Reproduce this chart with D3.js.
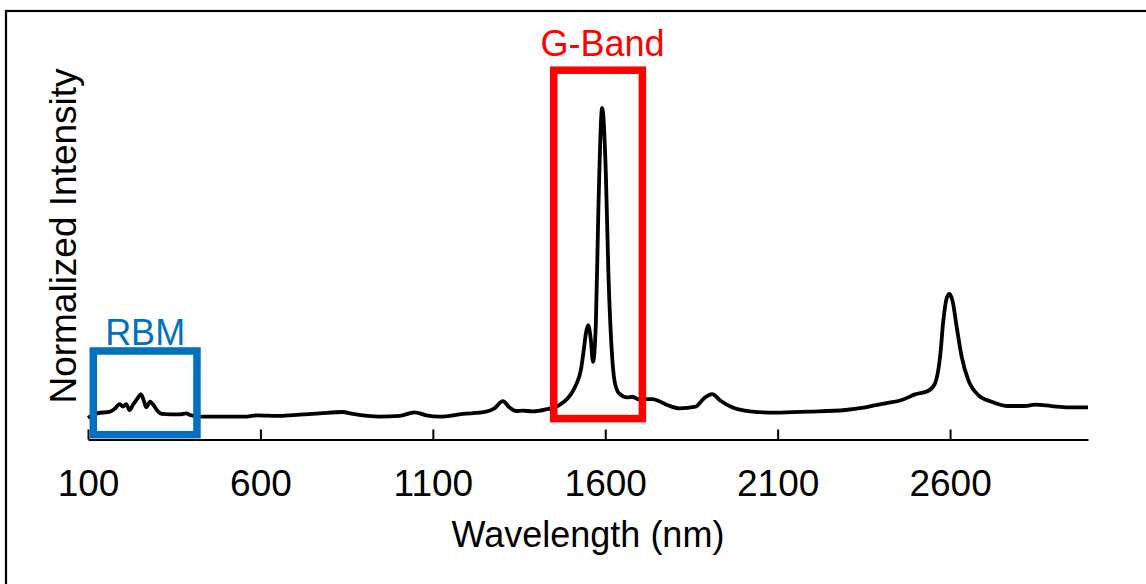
<!DOCTYPE html>
<html>
<head>
<meta charset="utf-8">
<script src="https://cdn.jsdelivr.net/npm/d3@7"></script>
<style>
  html, body { margin: 0; padding: 0; background: #fff; }
  svg { display: block; }
  text { font-family: "Liberation Sans", Arial, sans-serif; }
</style>
</head>
<body>
<svg id="chart" width="1146" height="584"></svg>
<script>
// ---- data ----
const wavelength = [100,126,164.5,179,191.4,201.3,210.8,220.4,230.2,243.5,253.4,262.9,268.7,280.3,289.8,301.4,314.1,338.1,367,384.4,396,425,482.8,560,589,656.4,714.3,772.1,837.8,868.5,945.8,1003.6,1047,1080.9,1119.4,1186.8,1254.5,1278.5,1303.1,1322,1341.3,1360.4,1389.3,1428.1,1466.6,1490.6,1505,1514.9,1529.4,1538.9,1543.9,1550.5,1558.3,1564.4,1572.8,1580.3,1591,1601.7,1609.2,1619.1,1627.2,1640.2,1664.2,1678.7,1698.1,1736.6,1780,1815.1,1862.1,1886.1,1910.2,1934.5,1968,2025.9,2093.6,2190,2296.2,2354,2411.9,2460,2498.7,2537.2,2556.6,2571.1,2580.6,2590.2,2598,2607.6,2619.1,2633.6,2652.9,2681.9,2720.4,2768.7,2817,2846,2894,2942.3,3000];
const intensity = [0.065,0.079,0.084,0.094,0.107,0.099,0.107,0.089,0.104,0.124,0.137,0.114,0.097,0.114,0.104,0.087,0.077,0.076,0.076,0.079,0.074,0.069,0.069,0.069,0.073,0.071,0.075,0.079,0.083,0.077,0.069,0.071,0.082,0.073,0.069,0.077,0.084,0.094,0.116,0.097,0.086,0.087,0.085,0.091,0.104,0.124,0.144,0.164,0.21,0.28,0.32,0.345,0.30,0.234,0.35,0.702,1.0,0.803,0.501,0.264,0.175,0.139,0.127,0.129,0.121,0.122,0.104,0.094,0.099,0.124,0.137,0.117,0.097,0.084,0.081,0.084,0.089,0.097,0.109,0.119,0.136,0.147,0.17,0.25,0.36,0.426,0.439,0.416,0.34,0.25,0.179,0.134,0.114,0.101,0.101,0.105,0.101,0.097,0.097];
const tickValues = [100, 600, 1100, 1600, 2100, 2600];
const xLabel = "Wavelength (nm)";
const yLabel = "Normalized Intensity";
const rbmRange = [115.4, 416];     // wavelength span of RBM box
const gRange = [1450.6, 1707.6];   // wavelength span of G-Band box
const rbmBox = [0.0145, 0.267];    // intensity span of RBM box
const gBox = [0.063, 1.114];       // intensity span of G-Band box
const gLabelAt = 1592;

// ---- layout ----
const svg = d3.select("#chart");
const x = d3.scaleLinear().domain([100, 3000]).range([88, 1088]);
const y = d3.scaleLinear().domain([0, 1]).range([439.5, 108]);

// outer frame
svg.append("rect")
  .attr("x", 6).attr("y", 11).attr("width", 1300).attr("height", 800)
  .attr("fill", "none").attr("stroke", "#000").attr("stroke-width", 2.2);

// x axis
const axis = d3.axisBottom(x).tickValues(tickValues).tickSizeInner(-10).tickSizeOuter(0).tickPadding(30)
  .tickFormat(d3.format("d"));
const gAxis = svg.append("g").attr("transform", `translate(0,${y(0)})`).call(axis);
gAxis.select(".domain").attr("stroke", "#000").attr("stroke-width", 2.2);
gAxis.selectAll(".tick line").attr("stroke", "#000").attr("stroke-width", 2);
gAxis.selectAll(".tick text").attr("font-size", 37).attr("fill", "#000")
  .attr("font-family", "Liberation Sans, Arial, sans-serif");

// axis titles
svg.append("text").attr("x", 588).attr("y", 547).attr("text-anchor", "middle")
  .attr("font-size", 36).attr("fill", "#000").text(xLabel);
svg.append("text").attr("transform", "translate(76,236) rotate(-90)").attr("text-anchor", "middle")
  .attr("font-size", 37).attr("fill", "#000").text(yLabel);

// spectrum line
const data = wavelength.map((w, i) => ({ w, v: intensity[i] }));
svg.append("path").datum(data)
  .attr("fill", "none").attr("stroke", "#000").attr("stroke-width", 3.8)
  .attr("stroke-linejoin", "round")
  .attr("d", d3.line().x(d => x(d.w)).y(d => y(d.v)).curve(d3.curveMonotoneX));

// annotation boxes
svg.append("rect")
  .attr("x", x(rbmRange[0])).attr("y", y(rbmBox[1]))
  .attr("width", x(rbmRange[1]) - x(rbmRange[0])).attr("height", y(rbmBox[0]) - y(rbmBox[1]))
  .attr("fill", "none").attr("stroke", "#0070C0").attr("stroke-width", 7.5);
svg.append("text").attr("x", (x(rbmRange[0]) + x(rbmRange[1])) / 2).attr("y", 345)
  .attr("text-anchor", "middle").attr("font-size", 36).attr("fill", "#0070C0").text("RBM");

svg.append("rect")
  .attr("x", x(gRange[0])).attr("y", y(gBox[1]))
  .attr("width", x(gRange[1]) - x(gRange[0])).attr("height", y(gBox[0]) - y(gBox[1]))
  .attr("fill", "none").attr("stroke", "#FF0000").attr("stroke-width", 7.5);
svg.append("text").attr("x", x(gLabelAt)).attr("y", 56)
  .attr("text-anchor", "middle").attr("font-size", 36).attr("fill", "#FF0000").text("G-Band");
</script>
</body>
</html>
